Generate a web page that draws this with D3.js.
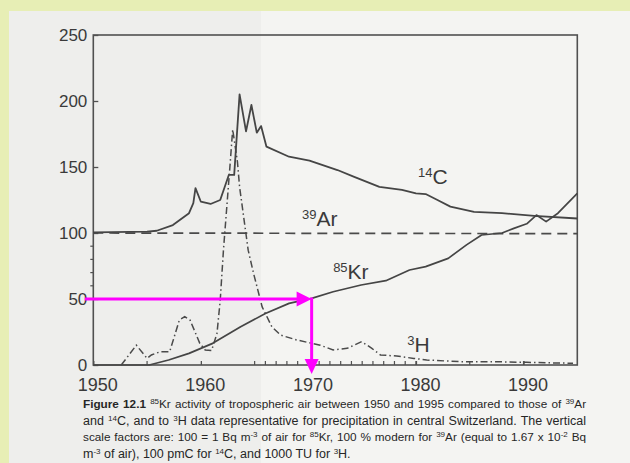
<!DOCTYPE html>
<html><head><meta charset="utf-8">
<script src="https://cdn.jsdelivr.net/npm/d3@7"></script>
<style>html,body{margin:0;padding:0;background:#e7eeb5;}svg{display:block;}</style>
</head><body>
<svg id="chart" width="630" height="463"></svg>
<script>
// ---- data ----
const c14Year  = [1950,1955,1955.9,1957.4,1958.9,1959.3,1959.5,1960,1960.9,1961.8,1962.6,1963.1,1963.6,1964.2,1964.7,1965.2,1965.6,1966.1,1968.2,1970.1,1972.7,1974.2,1976.6,1978.7,1980,1980.9,1982,1983.2,1985.4,1988,1991,1995];
const c14Value = [100.5,101,101.7,106,115,122.7,134,123.7,122,125,144,144,205,177,197,176,181,165.4,157.8,154.8,147.7,142.7,135,132.6,130,129.5,125,120,116,115,113,111];
const kr85Year  = [1950,1955.2,1957,1958.9,1961.1,1963.7,1966,1968.2,1970.3,1972.3,1974.9,1977.2,1979.4,1980.9,1983,1984.7,1986.1,1988,1989.1,1990.3,1991.2,1992.1,1993.2,1995];
const kr85Value = [0,0,3.8,8.8,16.4,29,39,46.7,50.5,55.5,60.6,63.9,72,74.5,80.8,91,98.5,100,103.5,107,113.6,108.6,115,130];
const ar39Year  = [1950,1995];
const ar39Value = [100,99.5];
const h3Year  = [1952.6,1954,1955,1955.4,1956.2,1957.1,1958,1958.5,1959,1959.9,1960.4,1961,1961.5,1961.8,1962.1,1962.7,1962.96,1963.4,1963.6,1964.4,1964.9,1965.7,1966.6,1967.4,1968.9,1971.1,1972.3,1973.6,1974.95,1975.9,1976.7,1978.2,1979.8,1981,1984.1,1987.2,1990.3,1994.6];
const h3Value = [0,15,5,7.6,10,10,34,36.6,34,16.4,11.4,11,24,49,87,150,178.5,154,135,87,69.4,44,29,22.7,19,15,11.4,12.6,17.7,12.6,7.6,6.8,5,3.8,2.5,2.5,2,1.3];
const xTickLabels = [1950,1960,1970,1980,1990];
const xMinorTicks = [1955,1965,1966,1967,1968,1969,1970,1971,1972,1973,1974,1975,1976,1977,1978,1979,1980,1985,1990];
const yTickLabels = [0,50,100,150,200,250];
const yMinorTicks = [60,70,80,90];
const arrowPath = [[1949.2,50],[1970.3,50],[1970.3,-6.8]];
const captionLines = [
  [["b","Figure 12.1 "],["s","85"],["n","Kr activity of tropospheric air between 1950 and 1995 compared to those of "],["s","39"],["n","Ar"]],
  [["n","and "],["s","14"],["n","C, and to "],["s","3"],["n","H data representative for precipitation in central Switzerland. The vertical"]],
  [["n","scale factors are: 100 = 1 Bq m"],["s","-3"],["n"," of air for "],["s","85"],["n","Kr, 100 % modern for "],["s","39"],["n","Ar (equal to 1.67 x 10"],["s","-2"],["n"," Bq"]],
  [["n","m"],["s","-3"],["n"," of air), 100 pmC for "],["s","14"],["n","C, and 1000 TU for "],["s","3"],["n","H."]]
];

// ---- drawing ----
const svg = d3.select("#chart");
const W = 630, H = 463;
svg.append("rect").attr("width",W).attr("height",H).attr("fill","#e7eeb5");
// paper
svg.append("rect").attr("x",9).attr("y",11).attr("width",W-9).attr("height",H-11).attr("fill","#eeeeec");
svg.append("rect").attr("x",261).attr("y",11).attr("width",W-261).attr("height",H-11).attr("fill","#f4f4f2");

const x = d3.scaleLinear().domain([1950,1995]).range([93.3,577.3]);
const y = d3.scaleLinear().domain([0,250]).range([365,35]);
const ink = "#3a3a3a";
const font = "'Liberation Sans', Arial, Helvetica, sans-serif";

// frame
svg.append("rect").attr("x",x(1950)).attr("y",y(250)).attr("width",x(1995)-x(1950)).attr("height",y(0)-y(250))
  .attr("fill","none").attr("stroke","#505050").attr("stroke-width",1.6);

// x axis ticks (inward) + labels
const xAxis = d3.axisBottom(x).tickValues(xTickLabels).tickSize(-4).tickPadding(9).tickFormat(d3.format("d"));
const gx = svg.append("g").attr("transform",`translate(0,${y(0)})`).call(xAxis);
gx.select(".domain").remove();
gx.selectAll("line").attr("stroke","#505050").attr("stroke-width",1.3);
gx.selectAll("text").attr("font-family",font).attr("font-size",18).attr("fill",ink).attr("dx",4).attr("dy","0.95em");
svg.append("g").selectAll("line").data(xMinorTicks).join("line")
  .attr("x1",d=>x(d)).attr("x2",d=>x(d)).attr("y1",y(0)).attr("y2",y(0)-4)
  .attr("stroke","#505050").attr("stroke-width",1.2);

// y axis
const yAxis = d3.axisLeft(y).tickValues(yTickLabels).tickSize(-5).tickPadding(6);
const gy = svg.append("g").attr("transform",`translate(${x(1950)},0)`).call(yAxis);
gy.select(".domain").remove();
gy.selectAll("line").attr("stroke","#505050").attr("stroke-width",1.3);
gy.selectAll("text").attr("font-family",font).attr("font-size",17).attr("fill",ink);
svg.append("g").selectAll("line").data(yMinorTicks).join("line")
  .attr("x1",x(1950)-3).attr("x2",x(1950)).attr("y1",d=>y(d)).attr("y2",d=>y(d))
  .attr("stroke","#505050").attr("stroke-width",1.2);

const line = d3.line().x(d=>x(d[0])).y(d=>y(d[1]));
const zip = (a,b)=>a.map((v,i)=>[v,b[i]]);

svg.append("path").datum(zip(ar39Year,ar39Value)).attr("d",line)
  .attr("fill","none").attr("stroke","#4a4a4a").attr("stroke-width",1.7).attr("stroke-dasharray","10,6");
svg.append("path").datum(zip(h3Year,h3Value)).attr("d",line)
  .attr("fill","none").attr("stroke","#4a4a4a").attr("stroke-width",1.5).attr("stroke-dasharray","7,3,1.5,3");
svg.append("path").datum(zip(kr85Year,kr85Value)).attr("d",line)
  .attr("fill","none").attr("stroke","#454545").attr("stroke-width",1.7).attr("stroke-linejoin","round");
svg.append("path").datum(zip(c14Year,c14Value)).attr("d",line)
  .attr("fill","none").attr("stroke","#454545").attr("stroke-width",1.8).attr("stroke-linejoin","round");

// species labels
function isoLabel(px,py,sup,sym){
  const t = svg.append("text").attr("x",px).attr("y",py).attr("font-family",font).attr("fill",ink);
  t.append("tspan").attr("font-size",13).attr("dy",-7).text(sup);
  t.append("tspan").attr("font-size",21).attr("dy",7).text(sym);
}
isoLabel(x(1980.2),y(137),"14","C");
isoLabel(x(1969.4),y(105.5),"39","Ar");
isoLabel(x(1972.3),y(65.5),"85","Kr");
isoLabel(x(1979.2),y(9.5),"3","H");

// magenta annotation arrows
const mag = "#ff00ff";
const p = arrowPath.map(d=>[x(d[0]),y(d[1])]);
svg.append("line").attr("x1",p[0][0]).attr("y1",p[0][1]).attr("x2",p[1][0]-12).attr("y2",p[1][1]).attr("stroke",mag).attr("stroke-width",3);
svg.append("path").attr("d",`M${p[1][0]},${p[1][1]} L${p[1][0]-15},${p[1][1]-7.5} L${p[1][0]-15},${p[1][1]+7.5}Z`).attr("fill",mag);
svg.append("line").attr("x1",p[1][0]).attr("y1",p[1][1]-1.5).attr("x2",p[2][0]).attr("y2",p[2][1]-12).attr("stroke",mag).attr("stroke-width",3);
svg.append("path").attr("d",`M${p[2][0]},${p[2][1]} L${p[2][0]-7},${p[2][1]-15} L${p[2][0]+7},${p[2][1]-15}Z`).attr("fill",mag);

// caption (justified with word-spacing)
const capX = 83, capRight = 586, capY0 = 408, capDy = 16.5;
captionLines.forEach((segs,i)=>{
  const t = svg.append("text").attr("x",capX).attr("y",capY0+i*capDy)
    .attr("font-family",font).attr("font-size",12.5).attr("fill","#262626");
  let raised = false;
  segs.forEach(([k,s])=>{
    const ts = t.append("tspan").text(s);
    if(k==="b") ts.attr("font-weight","bold");
    if(k==="s"){ ts.attr("font-size",8).attr("dy",-4); raised = true; }
    else if(raised){ ts.attr("dy",4); raised = false; }
  });
  if(i<3){
    const target = capRight-capX;
    let fs = 12.5;
    let nat = t.node().getComputedTextLength();
    while(nat > target - 6 && fs > 9){ fs -= 0.25; t.attr("font-size",fs); nat = t.node().getComputedTextLength(); }
    const spaces = segs.map(d=>d[1]).join("").split(" ").length-1;
    t.attr("word-spacing", ((target-nat)/spaces).toFixed(2));
  }
});
</script>
</body></html>
